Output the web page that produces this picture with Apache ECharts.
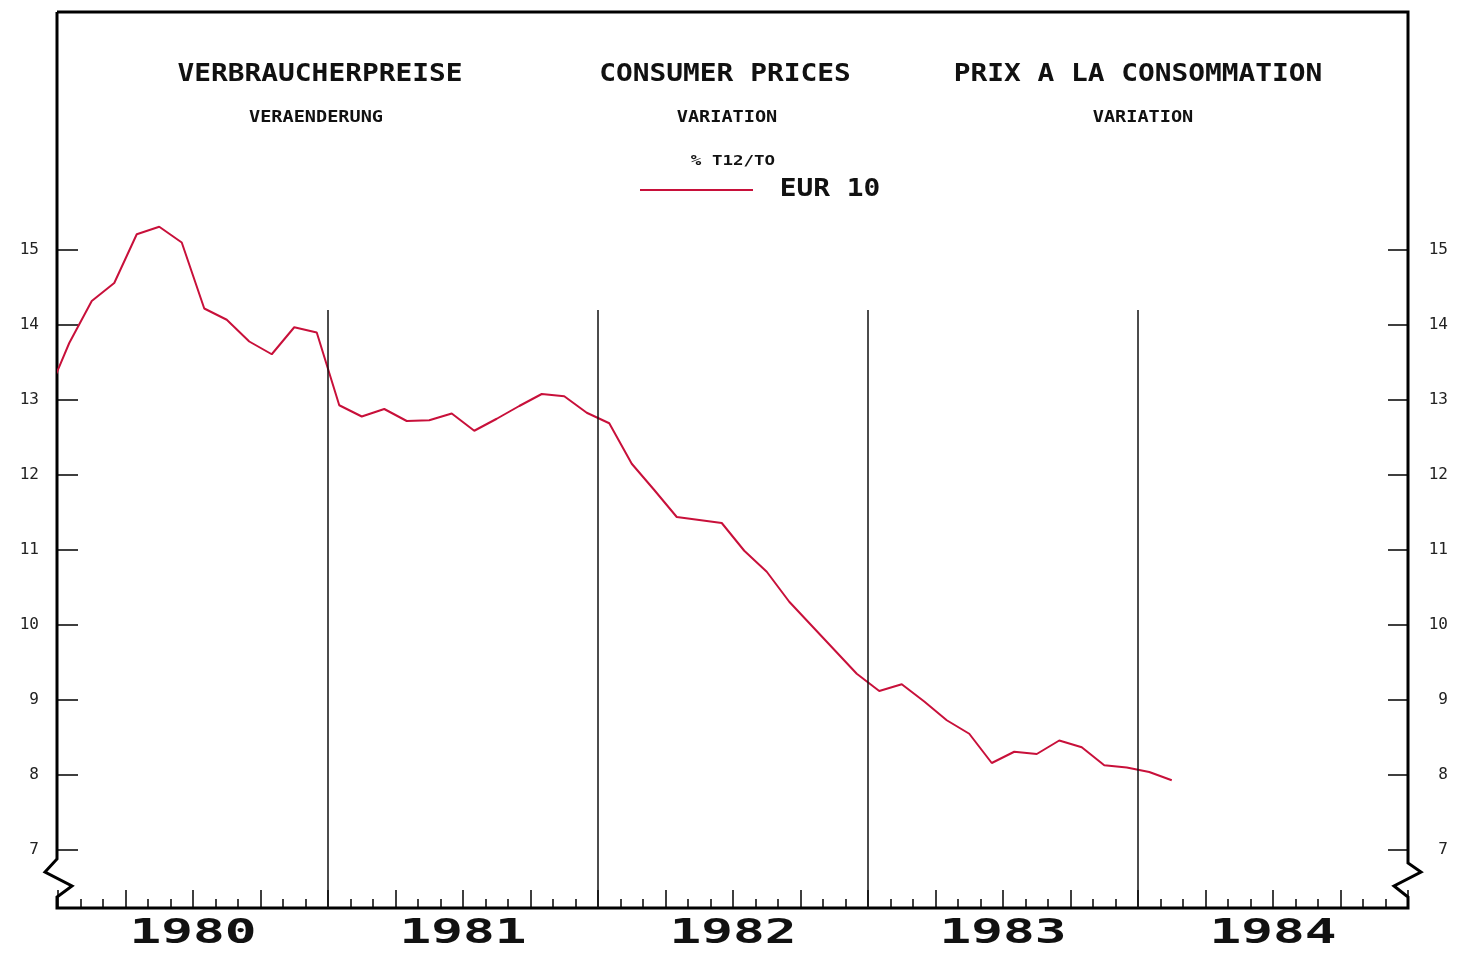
<!DOCTYPE html>
<html style="height: 100%">
<head>
    <meta charset="utf-8">
    <title>Verbraucherpreise - EUR 10</title>
</head>
<body style="height: 100%; margin: 0; background: #fff;">
<div id="container" style="width: 1472px; height: 955px"></div>
<script src="https://cdn.jsdelivr.net/npm/echarts@6/dist/echarts.min.js"></script>
<script type="text/javascript">

    // year labels on the x axis
    var years = ['1980', '1981', '1982', '1983', '1984'];
    // y ticks
    var yTicks = [7, 8, 9, 10, 11, 12, 13, 14, 15];
    // first month of the series (one month before the axis starts)
    var firstMonth = '1979-12';
    // % T12/T0, EUR 10, monthly
    var eur10 = [
        13.05,
        13.76, 14.32, 14.56, 15.21, 15.31, 15.10, 14.22, 14.07, 13.78, 13.61, 13.97, 13.90,
        12.93, 12.78, 12.88, 12.72, 12.73, 12.82, 12.59, 12.75, 12.92, 13.08, 13.05, 12.83,
        12.69, 12.15, 11.80, 11.44, 11.40, 11.36, 10.99, 10.71, 10.31, 9.99, 9.67, 9.35,
        9.12, 9.21, 8.98, 8.73, 8.55, 8.16, 8.31, 8.28, 8.46, 8.37, 8.13, 8.10,
        8.04, 7.93
    ];

    var FONT = 'DejaVu Sans Mono';
    var RED = '#c8103a';
    var W = 1472, H = 955;
    var L = 58, R = 1408, T = 12, B = 908;
    var yMin = 6.2267, yMax = 18.1733;

    // month index since Jan 1980, points sit mid-month
    var fy = +firstMonth.slice(0, 4), fm = +firstMonth.slice(5, 7);
    var offset = (fy - 1980) * 12 + (fm - 1);
    var points = eur10.map(function (v, i) {
        return [offset + i + 0.5, v];
    });

    var yearLines = [];
    for (var i = 1; i < years.length; i++) {
        yearLines.push([{coord: [i * 12, 14.2]}, {coord: [i * 12, yMin]}]);
    }

    var dom = document.getElementById('container');
    var myChart = echarts.init(dom);
    var tickStyle = {color: '#000', width: 1.5};
    var option = {
        animation: false,
        backgroundColor: '#fff',
        grid: {left: L, right: W - R, top: T, bottom: H - B},
        xAxis: {
            type: 'value',
            min: 0,
            max: years.length * 12,
            interval: 3,
            axisLine: {show: false},
            splitLine: {show: false},
            axisTick: {inside: true, length: 18, lineStyle: tickStyle},
            minorTick: {show: true, splitNumber: 3, length: 9, lineStyle: tickStyle},
            axisLabel: {show: false}
        },
        yAxis: [{
            type: 'value',
            position: 'left',
            min: yMin,
            max: yMax,
            axisLine: {show: false},
            splitLine: {show: false},
            axisTick: {show: true, inside: true, length: 20, customValues: yTicks, lineStyle: tickStyle},
            axisLabel: {customValues: yTicks, margin: 19, fontFamily: FONT, fontSize: 16, color: '#222',
                padding: [0, 0, 7, 0]}
        }, {
            type: 'value',
            position: 'right',
            min: yMin,
            max: yMax,
            axisLine: {show: false},
            splitLine: {show: false},
            axisTick: {show: true, inside: true, length: 20, customValues: yTicks, lineStyle: tickStyle},
            axisLabel: {customValues: yTicks, margin: 40, align: 'right', fontFamily: FONT, fontSize: 16, color: '#222',
                padding: [0, 0, 7, 0]}
        }],
        series: [{
            name: 'EUR 10',
            type: 'line',
            data: points,
            symbol: 'none',
            clip: true,
            lineStyle: {color: RED, width: 2},
            markLine: {
                silent: true,
                symbol: 'none',
                label: {show: false},
                lineStyle: {color: '#111', width: 1.5, type: 'solid'},
                data: yearLines
            }
        }]
    };
    myChart.setOption(option, true);

    function txt(x, y, s, size, sx, weight) {
        return {
            type: 'text',
            x: x, y: y,
            scaleX: sx,
            silent: true,
            style: {
                x: 0, y: 0,
                text: s,
                font: (weight || 'normal') + ' ' + size + 'px "' + FONT + '"',
                fill: '#111',
                textAlign: 'center',
                textVerticalAlign: 'middle'
            }
        };
    }

    var y7 = myChart.convertToPixel({yAxisIndex: 0}, 7);
    var graphics = [];
    graphics.push({
        type: 'polyline',
        silent: true,
        shape: {
            points: [
                [L - 1, T], [L - 1, y7 + 9], [L - 13, y7 + 22], [L + 14, y7 + 36], [L - 1, y7 + 47], [L - 1, B],
                [R, B], [R, y7 + 47], [R - 14, y7 + 36], [R + 13, y7 + 22], [R, y7 + 13], [R, T], [L - 1, T]
            ]
        },
        style: {stroke: '#000', lineWidth: 3, fill: null, lineJoin: 'miter'}
    });
    years.forEach(function (yr, i) {
        var px = myChart.convertToPixel({xAxisIndex: 0}, i * 12 + 6);
        graphics.push(txt(px, 934, yr, 33, 1.6, 'bold'));
    });
    graphics.push(txt(320, 75, 'VERBRAUCHERPREISE', 24, 1.16, 'bold'));
    graphics.push(txt(725, 75, 'CONSUMER PRICES', 24, 1.16, 'bold'));
    graphics.push(txt(1138, 75, 'PRIX A LA CONSOMMATION', 24, 1.16, 'bold'));
    graphics.push(txt(316, 118, 'VERAENDERUNG', 16, 1.16, 'bold'));
    graphics.push(txt(727, 118, 'VARIATION', 16, 1.16, 'bold'));
    graphics.push(txt(1143, 118, 'VARIATION', 16, 1.16, 'bold'));
    graphics.push(txt(733, 161, '% T12/TO', 14, 1.25, 'bold'));
    graphics.push({
        type: 'line',
        silent: true,
        shape: {x1: 640, y1: 190, x2: 753, y2: 190},
        style: {stroke: RED, lineWidth: 2}
    });
    graphics.push(txt(830, 190, 'EUR 10', 24, 1.16, 'bold'));
    myChart.setOption({graphic: graphics});

</script>
</body>
</html>
